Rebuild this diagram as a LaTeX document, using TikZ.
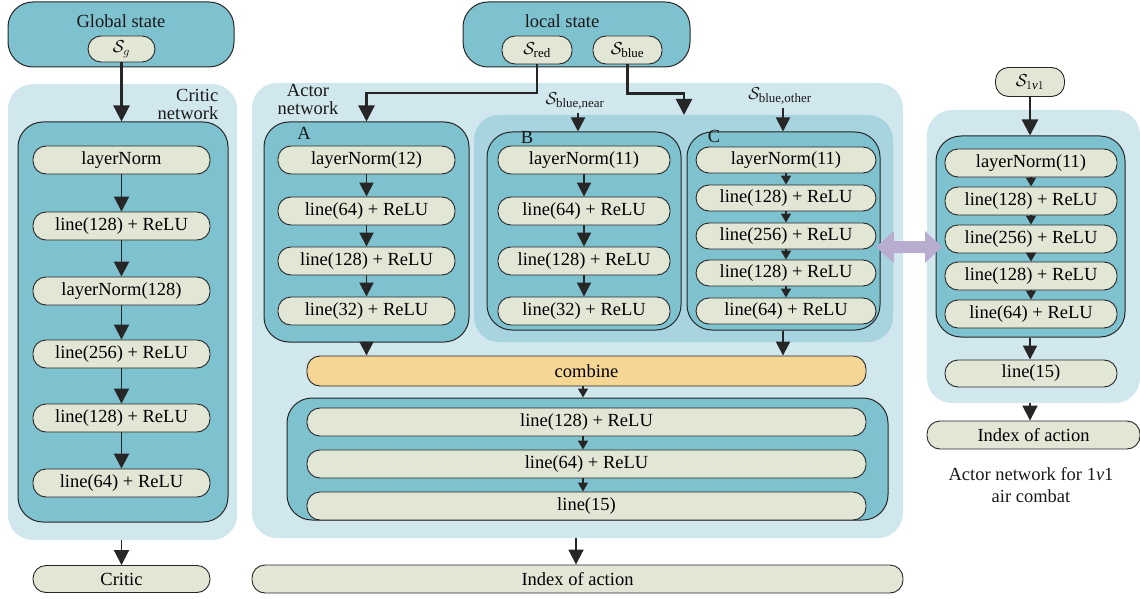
\documentclass[tikz,border=0pt]{standalone}
\usepackage{fontspec}
\setmainfont{Liberation Serif}
\usepackage{amsmath}
\usetikzlibrary{arrows.meta}
\definecolor{boxc}{HTML}{7FC2CF}
\definecolor{lightc}{HTML}{D1E7EE}
\definecolor{midc}{HTML}{A7D4DF}
\definecolor{pillc}{HTML}{E2E7D5}
\definecolor{combc}{HTML}{F5D694}
\definecolor{linec}{HTML}{262626}
\definecolor{purc}{HTML}{B8ADCF}
\newcommand{\Sst}[1]{$\mathcal{S}_{\text{#1}}$}
\begin{document}
\begin{tikzpicture}[x=1pt,y=-1pt,
  font=\fontsize{18.5}{21}\selectfont,
  lightbox/.style={fill=lightc, rounded corners=25pt, inner sep=0},
  midbox/.style={fill=midc, rounded corners=25pt, inner sep=0},
  tealbox/.style={draw=linec, fill=boxc, rounded corners=25pt, line width=1pt, inner sep=0},
  pill/.style={draw=linec, fill=pillc, rounded corners=13pt, line width=0.9pt, inner sep=0, minimum height=28pt},
  combpill/.style={pill, fill=combc, minimum height=30pt},
  lbl/.style={inner sep=0, text=black!90},
  bigarr/.style={draw=linec, line width=1.9pt, -{Triangle[width=15pt,length=15pt]}},
  midarr/.style={draw=linec, line width=1.9pt, -{Triangle[width=14pt,length=14pt]}},
  smallarr/.style={draw=linec, line width=1.6pt, -{Triangle[width=10pt,length=9pt]}},
  feedarr/.style={draw=linec, line width=2.2pt, -{Triangle[width=16pt,length=16pt]}},
]
\useasboundingbox (0,0) rectangle (1140,599);

% ---------------- critic column ----------------
\node[lightbox, minimum width=229pt, minimum height=456pt] (critl) at (122.5,312) {};
\node[tealbox, minimum width=226pt, minimum height=65pt] (gs) at (121,34.5) {};
\node[lbl] (gst) at (121,21) {Global state};
\node[pill, minimum width=67pt, minimum height=26pt] (sg) at (121.5,49) {$\mathcal{S}_{g}$};
\node[lbl, align=right] (critt) at (188,104) {Critic\\[-3pt]network};
\node[tealbox, minimum width=210pt, minimum height=400pt] (crin) at (123,322) {};
\foreach \n/\y/\t in {c1/160/layerNorm, c2/226/line(128) + ReLU, c3/291/layerNorm(128),
                      c4/354/line(256) + ReLU, c5/418/line(128) + ReLU, c6/483/line(64) + ReLU}
  \node[pill, minimum width=177pt] (\n) at (121.5,\y) {\t};
\node[pill, minimum width=177pt, minimum height=27pt] (cout) at (121.5,579) {Critic};

\draw[feedarr] (sg.south) -- (sg.south |- crin.north);
\foreach \a/\b in {c1/c2, c2/c3, c3/c4, c4/c5, c5/c6}
  \draw[bigarr] (\a.south) -- (\b.north);
\draw[bigarr] (cout.north |- critl.south) -- (cout.north);

% ---------------- actor network ----------------
\node[lightbox, minimum width=651pt, minimum height=455pt] (actl) at (577.5,310.5) {};
\node[tealbox, minimum width=227pt, minimum height=65pt] (ls) at (576.5,34.5) {};
\node[lbl] (lst) at (562,21) {local state};
\node[pill, minimum width=70pt] (sred) at (537,50) {\Sst{red}};
\node[pill, minimum width=69pt] (sblue) at (627.5,50) {\Sst{blue}};
\node[lbl, align=center] (actt) at (308,99) {Actor\\[-3pt]network};

\node[midbox, minimum width=419pt, minimum height=227pt] (bcm) at (683.5,228.5) {};

% branch A
\node[tealbox, minimum width=205pt, minimum height=220pt] (ba) at (366.5,232) {};
\node[lbl] (tA) at (304,133) {A};
\foreach \n/\y/\t in {a1/160/layerNorm(12), a2/211/line(64) + ReLU, a3/261/line(128) + ReLU, a4/311/line(32) + ReLU}
  \node[pill, minimum width=177pt] (\n) at (366.5,\y) {\t};
\foreach \a/\b in {a1/a2, a2/a3, a3/a4}
  \draw[midarr] (\a.south) -- (\b.north);

% branch B
\node[tealbox, minimum width=194pt, minimum height=198pt] (bb) at (584,231) {};
\node[lbl] (tB) at (527,137) {B};
\foreach \n/\y/\t in {b1/160/layerNorm(11), b2/211/line(64) + ReLU, b3/261/line(128) + ReLU, b4/311/line(32) + ReLU}
  \node[pill, minimum width=172pt] (\n) at (584,\y) {\t};
\foreach \a/\b in {b1/b2, b2/b3, b3/b4}
  \draw[midarr] (\a.south) -- (\b.north);

% branch C
\node[tealbox, minimum width=193pt, minimum height=198pt] (bcc) at (783.5,231) {};
\node[lbl] (tC) at (714,136) {C};
\foreach \n/\y/\t in {k1/160/layerNorm(11), k2/198/line(128) + ReLU, k3/236/line(256) + ReLU,
                      k4/273/line(128) + ReLU, k5/311/line(64) + ReLU}
  \node[pill, minimum width=180pt, minimum height=26pt] (\n) at (786,\y) {\t};
\foreach \a/\b in {k1/k2, k2/k3, k3/k4, k4/k5}
  \draw[smallarr] (\a.south) -- (\b.north);

% state inputs
\coordinate (redturn) at (537,93);
\coordinate (blueend) at (684,115);
\draw[feedarr] (sred.south) -- (redturn) -| (ba.north);
\draw[feedarr] (sblue.south) -- ++(0,29) -| (blueend);
\node[lbl] (snear) at (575,101) {\Sst{blue,near}};
\node[lbl] (sother) at (780,96) {\Sst{blue,other}};
\coordinate (nearin) at (578,113);
\coordinate (otherin) at (783,108);
\draw[midarr] (nearin) -- (nearin |- bb.north);
\draw[midarr] (otherin) -- (otherin |- bcc.north);

% merge and head
\node[combpill, minimum width=559pt] (comb) at (586.5,371) {combine};
\draw[midarr] (ba.south) -- (ba.south |- comb.north);
\draw[midarr] (otherin |- bcc.south) -- (otherin |- comb.north);
\node[tealbox, minimum width=601pt, minimum height=122pt] (low) at (587.5,459) {};
\coordinate (headx) at (583,0);
\foreach \n/\y/\t in {h1/422/line(128) + ReLU, h2/464/line(64) + ReLU, h3/506/line(15)}
  \node[pill, minimum width=559pt] (\n) at (586.5,\y) {\t};
\draw[smallarr] (headx |- comb.south) -- (headx |- low.north);
\draw[smallarr] (headx |- h1.south) -- (headx |- h2.north);
\draw[smallarr] (headx |- h2.south) -- (headx |- h3.north);
\node[pill, minimum width=651pt] (aidx) at (577.5,579) {Index of action};
\coordinate (outx) at (576,0);
\draw[bigarr] (outx |- actl.south) -- (outx |- aidx.north);

% ---------------- 1v1 actor ----------------
\node[lightbox, minimum width=213pt, minimum height=293pt] (rl) at (1033.5,256.5) {};
\node[pill, minimum width=69pt, minimum height=29pt] (s11) at (1030,82) {$\mathcal{S}_{1\mathit{v}1}$};
\node[tealbox, minimum width=189pt, minimum height=201pt] (rin) at (1030.5,236.5) {};
\foreach \n/\y/\t in {r1/163/layerNorm(11), r2/201/line(128) + ReLU, r3/239/line(256) + ReLU,
                      r4/276/line(128) + ReLU, r5/314/line(64) + ReLU}
  \node[pill, minimum width=172pt] (\n) at (1031,\y) {\t};
\foreach \a/\b in {r1/r2, r2/r3, r3/r4, r4/r5}
  \draw[smallarr] (\a.south) -- (\b.north);
\node[pill, minimum width=172pt, minimum height=27pt] (r15) at (1031,373.5) {line(15)};
\node[pill, minimum width=213pt] (ridx) at (1033.5,435) {Index of action};
\draw[feedarr] (s11.south) -- (s11.south |- rin.north);
\draw[midarr] (s11.south |- rin.south) -- (s11.south |- r15.north);
\draw[bigarr] (s11.south |- rl.south) -- (s11.south |- ridx.north);
\node[lbl, align=center] (rcap) at (1031,485.5) {Actor network for 1\textit{v}1\\[1pt]air combat};

% shared-structure marker
\fill[purc] (876,247) -- (894,231) -- (894,241) -- (925,241) -- (925,231) -- (942,247)
            -- (925,263) -- (925,253) -- (894,253) -- (894,263) -- cycle;
\end{tikzpicture}
\end{document}
